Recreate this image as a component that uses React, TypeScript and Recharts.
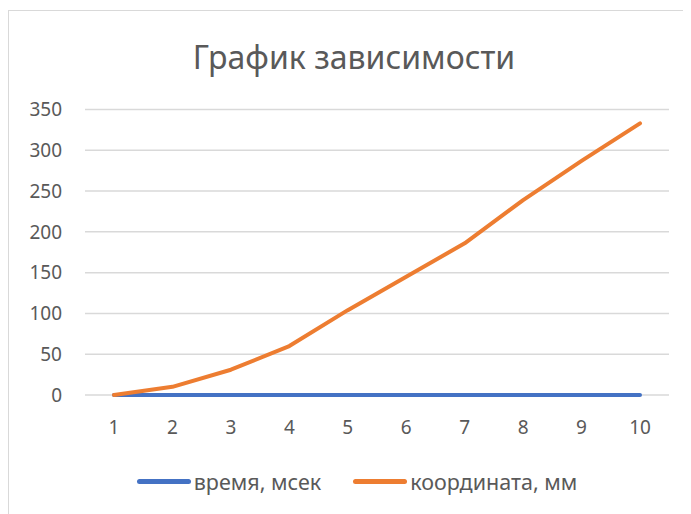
import { LineChart, Line, XAxis, YAxis, CartesianGrid, Legend } from 'recharts';

const categories = ['1', '2', '3', '4', '5', '6', '7', '8', '9', '10'];
const timeMs = [0.01, 0.02, 0.03, 0.04, 0.05, 0.06, 0.07, 0.08, 0.09, 0.1];
const coordMm = [0, 10, 31, 60, 104, 145, 186, 239, 287, 333];
const yTicks = [0, 50, 100, 150, 200, 250, 300, 350];

const seriesNames = { time: 'время, мсек', coord: 'координата, мм' };
const colors = { time: '#4472C4', coord: '#ED7D31' };

const chartData = categories.map((name, i) => ({
  name,
  time: timeMs[i],
  coord: coordMm[i],
}));

const FONT = '"Noto Sans", "Open Sans", sans-serif';

const LegendContent = () => (
  <div
    style={{
      display: 'flex',
      justifyContent: 'center',
      alignItems: 'center',
      height: 40,
      paddingLeft: 37,
      fontFamily: FONT,
      fontSize: 21.5,
      color: '#595959',
    }}
  >
    {(['time', 'coord'] as const).map((key, i) => (
      <div key={key} style={{ display: 'flex', alignItems: 'center', marginLeft: i ? 32 : 0 }}>
        <span
          style={{
            display: 'inline-block',
            width: 54,
            height: 5,
            borderRadius: 3,
            background: colors[key],
            marginRight: 3,
          }}
        />
        <span>{seriesNames[key]}</span>
      </div>
    ))}
  </div>
);

export default function App() {
  return (
    <div
      style={{
        position: 'relative',
        width: 683,
        height: 506,
        overflow: 'hidden',
        background: '#fff',
      }}
    >
      <div
        style={{
          position: 'absolute',
          left: 0,
          top: 2,
          width: 700,
          height: 520,
          borderTop: '1.5px solid #D9D9D9',
          borderLeft: '1.5px solid #D9D9D9',
          boxSizing: 'border-box',
        }}
      />
      <div
        style={{
          position: 'absolute',
          left: 0,
          top: 28,
          width: 683,
          paddingLeft: 9,
          boxSizing: 'border-box',
          textAlign: 'center',
          fontFamily: FONT,
          fontSize: 32,
          color: '#595959',
          lineHeight: '42px',
        }}
      >
        График зависимости
      </div>
      <LineChart
        width={683}
        height={506}
        data={chartData}
        margin={{ top: 101.5, right: 22, left: 0, bottom: 13 }}
        style={{ position: 'absolute', left: 0, top: 0 }}
      >
        <CartesianGrid stroke="#D9D9D9" strokeWidth={1.5} vertical={false} />
        <XAxis
          dataKey="name"
          axisLine={false}
          tickLine={false}
          tickSize={0}
          tickMargin={26}
          height={66}
          padding={{ left: 29, right: 29 }}
          tick={{ fontSize: 19, fill: '#595959', fontFamily: FONT }}
        />
        <YAxis
          domain={[0, 350]}
          ticks={yTicks}
          axisLine={false}
          tickLine={false}
          tickSize={0}
          tickMargin={23}
          width={77}
          tick={{ fontSize: 19, fill: '#595959', fontFamily: FONT }}
        />
        <Legend verticalAlign="bottom" height={40} content={<LegendContent />} />
        <Line
          type="linear"
          dataKey="time"
          name={seriesNames.time}
          stroke={colors.time}
          strokeWidth={4}
          strokeLinecap="round"
          strokeLinejoin="round"
          dot={false}
          isAnimationActive={false}
        />
        <Line
          type="linear"
          dataKey="coord"
          name={seriesNames.coord}
          stroke={colors.coord}
          strokeWidth={4}
          strokeLinecap="round"
          strokeLinejoin="round"
          dot={false}
          isAnimationActive={false}
        />
      </LineChart>
    </div>
  );
}
